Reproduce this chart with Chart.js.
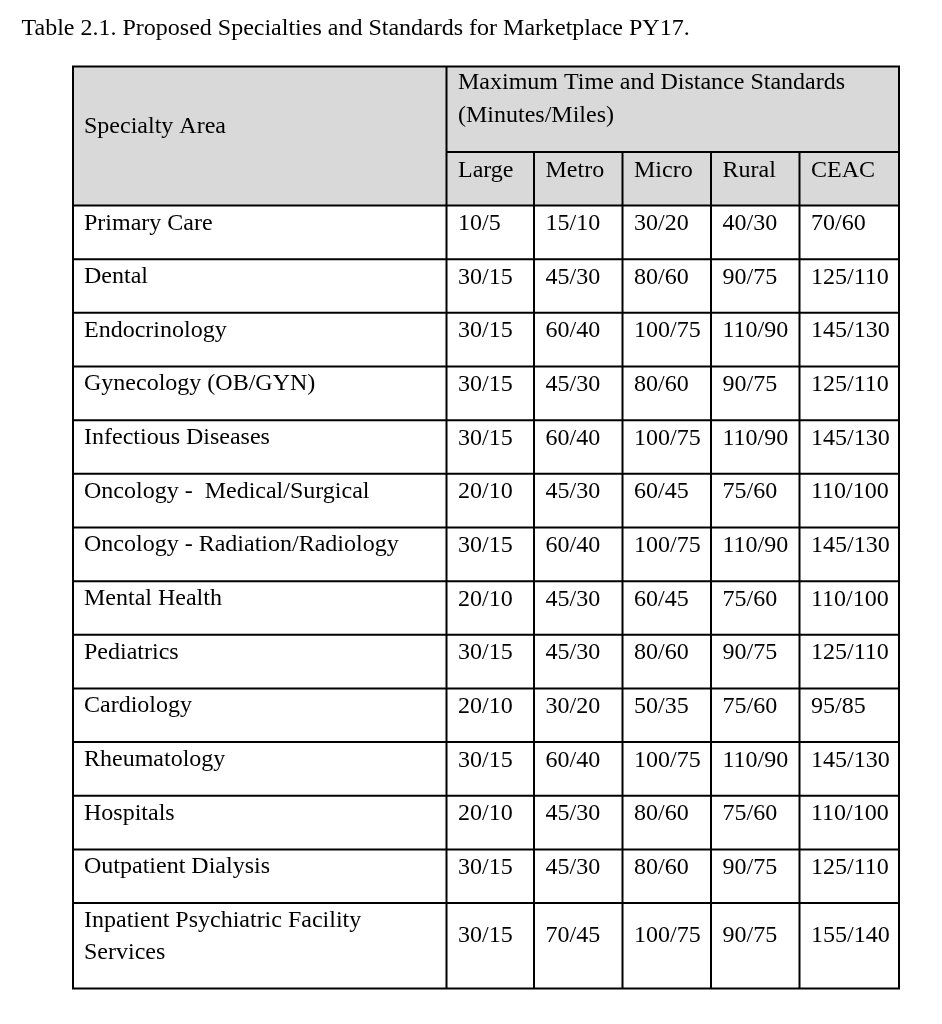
<!DOCTYPE html>
<html>
<head>
<meta charset="utf-8">
<script src="https://cdn.jsdelivr.net/npm/chart.js@4/dist/chart.umd.min.js"></script>
<style>
  html, body { margin: 0; padding: 0; background: #ffffff; }
  #wrap { width: 942px; height: 1024px; }
</style>
</head>
<body>
<div id="wrap"><canvas id="c" width="942" height="1024"></canvas></div>
<script>
// ---------------- DATA ----------------
const tableTitle = 'Table 2.1. Proposed Specialties and Standards for Marketplace PY17.';
const specialtyHeader = 'Specialty Area';
const groupHeader = ['Maximum Time and Distance Standards', '(Minutes/Miles)'];
const areaTypes = ['Large', 'Metro', 'Micro', 'Rural', 'CEAC'];
const specialties = [
  ['Primary Care'],
  ['Dental'],
  ['Endocrinology'],
  ['Gynecology (OB/GYN)'],
  ['Infectious Diseases'],
  ['Oncology -  Medical/Surgical'],
  ['Oncology - Radiation/Radiology'],
  ['Mental Health'],
  ['Pediatrics'],
  ['Cardiology'],
  ['Rheumatology'],
  ['Hospitals'],
  ['Outpatient Dialysis'],
  ['Inpatient Psychiatric Facility', 'Services']
];
const largeMinutes = [10, 30, 30, 30, 30, 20, 30, 20, 30, 20, 30, 20, 30, 30];
const largeMiles   = [5, 15, 15, 15, 15, 10, 15, 10, 15, 10, 15, 10, 15, 15];
const metroMinutes = [15, 45, 60, 45, 60, 45, 60, 45, 45, 30, 60, 45, 45, 70];
const metroMiles   = [10, 30, 40, 30, 40, 30, 40, 30, 30, 20, 40, 30, 30, 45];
const microMinutes = [30, 80, 100, 80, 100, 60, 100, 60, 80, 50, 100, 80, 80, 100];
const microMiles   = [20, 60, 75, 60, 75, 45, 75, 45, 60, 35, 75, 60, 60, 75];
const ruralMinutes = [40, 90, 110, 90, 110, 75, 110, 75, 90, 75, 110, 75, 90, 90];
const ruralMiles   = [30, 75, 90, 75, 90, 60, 90, 60, 75, 60, 90, 60, 75, 75];
const ceacMinutes  = [70, 125, 145, 125, 145, 110, 145, 110, 125, 95, 145, 110, 125, 155];
const ceacMiles    = [60, 110, 130, 110, 130, 100, 130, 100, 110, 85, 130, 100, 110, 140];

// ---------------- LAYOUT (table units) ----------------
const colWidths = [373.5, 87.5, 88.5, 88.5, 88.5, 99.5];
const headerHeights = [85.5, 53.5];
const dataRowHeight = 53.65;
const lastRowHeight = 85.4;
const FONT = '"Liberation Serif", "Times New Roman", Times, serif';
const GRAY = '#d9d9d9';

const minutesBy = [largeMinutes, metroMinutes, microMinutes, ruralMinutes, ceacMinutes];
const milesBy = [largeMiles, metroMiles, microMiles, ruralMiles, ceacMiles];

const colEdges = [0];
colWidths.forEach(w => colEdges.push(colEdges[colEdges.length - 1] + w));
const rowHeights = headerHeights.concat(specialties.map((s, i) => i === specialties.length - 1 ? lastRowHeight : dataRowHeight));
const rowEdges = [0];
rowHeights.forEach(h => rowEdges.push(rowEdges[rowEdges.length - 1] + h));
const tableW = colEdges[colEdges.length - 1];
const tableH = rowEdges[rowEdges.length - 1];

// one scatter dataset per area type; each point anchors the cell's top-left corner
const datasets = areaTypes.map((name, c) => ({
  label: name,
  data: specialties.map((s, r) => ({
    x: colEdges[c + 1],
    y: rowEdges[r + 2],
    text: minutesBy[c][r] + '/' + milesBy[c][r],
    row: r
  })),
  pointRadius: 0,
  pointHoverRadius: 0,
  showLine: false
}));
datasets.push({
  label: specialtyHeader,
  data: specialties.map((s, r) => ({ x: colEdges[0], y: rowEdges[r + 2], lines: s, row: r })),
  pointRadius: 0, pointHoverRadius: 0, showLine: false
});

const tablePlugin = {
  id: 'tablePlugin',
  beforeDraw(chart) {
    const ctx = chart.ctx;
    ctx.save();
    ctx.fillStyle = '#ffffff';
    ctx.fillRect(0, 0, chart.width, chart.height);
    ctx.restore();
  },
  afterDatasetsDraw(chart) {
    const ctx = chart.ctx;
    const xs = chart.scales.x, ys = chart.scales.y;
    const X = v => xs.getPixelForValue(v);
    const Y = v => ys.getPixelForValue(v);
    ctx.save();
    // header background
    ctx.fillStyle = GRAY;
    ctx.fillRect(X(0), Y(0), X(tableW) - X(0), Y(rowEdges[2]) - Y(0));

    // grid lines
    ctx.strokeStyle = '#000';
    ctx.lineWidth = 2;
    const line = (x1, y1, x2, y2) => { ctx.beginPath(); ctx.moveTo(x1, y1); ctx.lineTo(x2, y2); ctx.stroke(); };
    line(X(colEdges[1]), Y(rowEdges[1]), X(tableW), Y(rowEdges[1]));
    for (let r = 2; r < rowEdges.length - 1; r++) line(X(0), Y(rowEdges[r]), X(tableW), Y(rowEdges[r]));
    line(X(colEdges[1]), Y(0), X(colEdges[1]), Y(tableH));
    for (let c = 2; c < colEdges.length - 1; c++) line(X(colEdges[c]), Y(rowEdges[1]), X(colEdges[c]), Y(tableH));
    ctx.strokeRect(X(0), Y(0), X(tableW) - X(0), Y(tableH) - Y(0));

    // texts
    ctx.fillStyle = '#000';
    ctx.textBaseline = 'alphabetic';
    ctx.textAlign = 'left';
    const padX = 11.5;
    ctx.font = '24px ' + FONT;
    ctx.fillText(tableTitle, 21.5, 35);
    ctx.fillText(specialtyHeader, X(0) + padX - 0.5, Y(0) + 66.5);
    ctx.fillText(groupHeader[0], X(colEdges[1]) + padX, Y(0) + 22.5);
    ctx.fillText(groupHeader[1], X(colEdges[1]) + padX, Y(0) + 55);
    areaTypes.forEach((t, c) => ctx.fillText(t, X(colEdges[c + 1]) + padX, Y(rowEdges[1]) + 25));

    // body cells, positioned from the elements the library computed
    chart.data.datasets.forEach((ds, di) => {
      const meta = chart.getDatasetMeta(di);
      meta.data.forEach((el, i) => {
        const d = ds.data[i];
        const last = d.row === specialties.length - 1;
        if (d.lines) {
          d.lines.forEach((ln, k) => ctx.fillText(ln, el.x + padX - 0.5, el.y + 24 + k * 32));
        } else {
          const by = last ? el.y + 39 : el.y + 24.5;
          ctx.fillText(d.text, el.x + padX, by);
        }
      });
    });
    ctx.restore();
  }
};

function build() {
  new Chart(document.getElementById('c'), {
    type: 'scatter',
    data: { datasets },
    options: {
      responsive: false,
      animation: false,
      events: [],
      layout: { padding: { left: 73, top: 66.5, right: 43, bottom: 35.5 } },
      scales: {
        x: { type: 'linear', min: 0, max: tableW, display: false },
        y: { type: 'linear', min: 0, max: tableH, reverse: true, display: false }
      },
      plugins: { legend: { display: false }, tooltip: { enabled: false }, title: { display: false } }
    },
    plugins: [tablePlugin]
  });
}
if (document.fonts && document.fonts.load) {
  Promise.all([document.fonts.load('24px "Liberation Serif"')]).then(build, build);
} else build();
</script>
</body>
</html>
